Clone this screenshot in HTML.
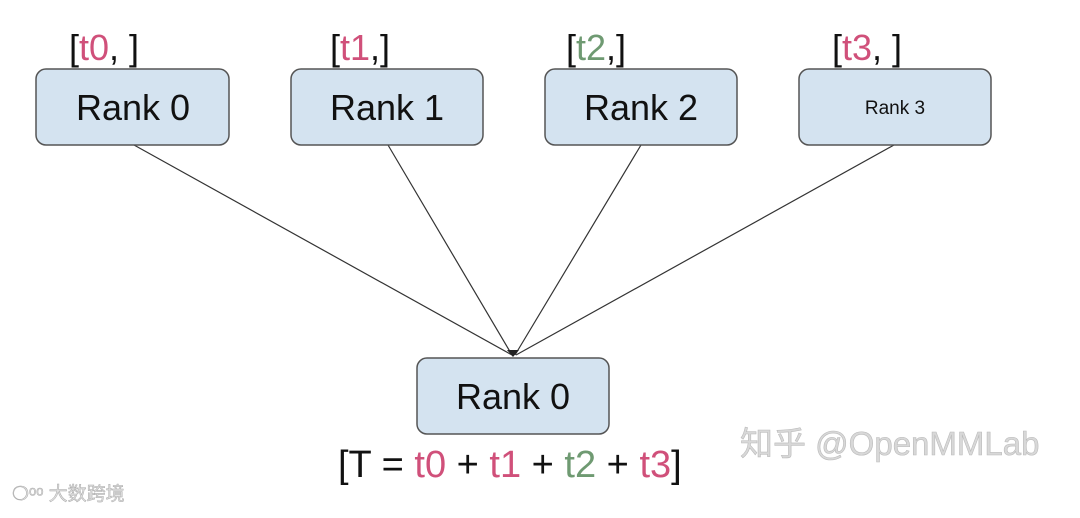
<!DOCTYPE html>
<html><head><meta charset="utf-8"><style>
body{margin:0;background:#fff;}
</style></head><body>
<svg width="1080" height="513" xmlns="http://www.w3.org/2000/svg" font-family="Liberation Sans, sans-serif">
<g stroke="#333" stroke-width="1.2">
<line x1="134" y1="145" x2="512" y2="355"/>
<line x1="388" y1="145" x2="512" y2="355"/>
<line x1="641" y1="145" x2="515" y2="355"/>
<line x1="894" y1="145" x2="516" y2="355"/>
</g>
<path d="M507 350 L513 357 L519 350 Z" fill="#222"/>
<g fill="#d4e3f0" stroke="#555" stroke-width="1.5">
<rect x="36" y="69" width="193" height="76" rx="10"/>
<rect x="291" y="69" width="192" height="76" rx="10"/>
<rect x="545" y="69" width="192" height="76" rx="10"/>
<rect x="799" y="69" width="192" height="76" rx="10"/>
<rect x="417" y="358" width="192" height="76" rx="10"/>
</g>
<g fill="#111" font-size="36" text-anchor="middle">
<text x="133" y="120">Rank 0</text>
<text x="387" y="120">Rank 1</text>
<text x="641" y="120">Rank 2</text>
<text x="895" y="114" font-size="19">Rank 3</text>
<text x="513" y="409">Rank 0</text>
</g>
<g font-size="36" fill="#111">
<text x="69" y="60">[<tspan fill="#d0507a">t0</tspan>, ]</text>
<text x="330" y="60">[<tspan fill="#d0507a">t1</tspan>,]</text>
<text x="566" y="60">[<tspan fill="#6f9a72">t2</tspan>,]</text>
<text x="832" y="60">[<tspan fill="#d0507a">t3</tspan>, ]</text>
<text x="338" y="477" font-size="38">[T = <tspan fill="#d0507a">t0</tspan> + <tspan fill="#d0507a">t1</tspan> + <tspan fill="#6f9a72">t2</tspan> + <tspan fill="#d0507a">t3</tspan>]</text>
</g>
<text x="740" y="455" font-size="33" fill="#d8d8d8" stroke="#bbb" stroke-width="0.6" font-family="Liberation Sans, Noto Sans CJK SC, sans-serif">知乎 @OpenMMLab</text>
<text x="12" y="500" font-size="19" fill="#e0e0e0" stroke="#aaa" stroke-width="0.5" font-family="Liberation Sans, Noto Sans CJK SC, sans-serif">❍ᵒᵒ 大数跨境</text>
</svg>
</body></html>
